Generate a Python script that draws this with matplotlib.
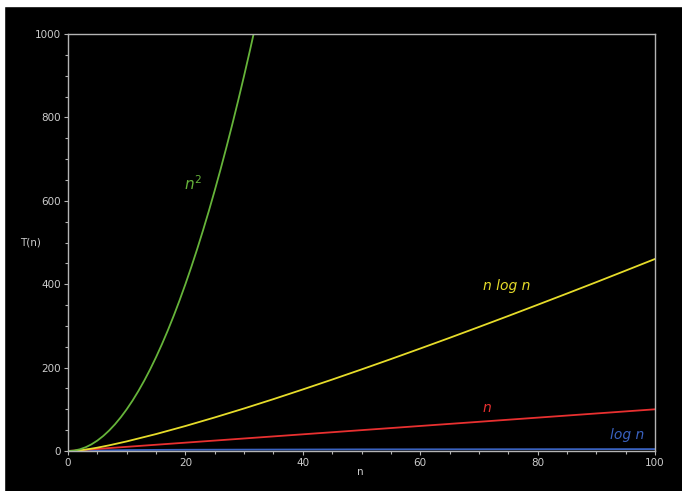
import matplotlib
matplotlib.use("Agg")
import matplotlib.pyplot as plt
from matplotlib.patches import Rectangle

# Data
n_sq_x = [0, 1, 2, 3, 4, 5, 6, 7, 8, 9, 10, 11, 12, 13, 14, 15, 16, 17, 18, 19, 20,
          21, 22, 23, 24, 25, 26, 27, 28, 29, 30, 31, 32]
n_sq_y = [0, 1, 4, 9, 16, 25, 36, 49, 64, 81, 100, 121, 144, 169, 196, 225, 256, 289, 324,
          361, 400, 441, 484, 529, 576, 625, 676, 729, 784, 841, 900, 961, 1024]

nlogn_x = [0, 1, 2, 3, 5, 7, 10, 15, 20, 25, 30, 35, 40, 45, 50, 55, 60, 65, 70, 75, 80, 85, 90, 95, 100]
nlogn_y = [0, 0, 1.4, 3.3, 8.0, 13.6, 23.0, 40.6, 59.9, 80.5, 102.0, 124.4, 147.6, 171.3, 195.6,
           220.4, 245.7, 271.3, 297.4, 323.8, 350.6, 377.6, 404.9, 432.6, 460.5]

lin_x = [0, 100]
lin_y = [0, 100]

log_x = [1, 10, 20, 50, 100]
log_y = [0, 2.3, 3.0, 3.9, 4.6]

x_ticks = [0, 20, 40, 60, 80, 100]
y_ticks = [0, 200, 400, 600, 800, 1000]

green = "#66b43a"
yellow = "#e6dc2a"
red = "#e83030"
blue = "#3a62c0"
axis_col = "#b4b4b4"
text_col = "#cccccc"

fig = plt.figure(figsize=(6.82, 4.91), dpi=100, facecolor="black")
# white strips at top and left
fig.patches.append(Rectangle((0, 0), 4 / 682, 1, transform=fig.transFigure, color="white", zorder=0))
fig.patches.append(Rectangle((0, 1 - 6 / 491), 1, 6 / 491, transform=fig.transFigure, color="white", zorder=0))

ax = fig.add_axes([68 / 682, 40 / 491, 587 / 682, 417 / 491])
ax.set_facecolor("black")

ax.plot(log_x, log_y, color=blue, lw=1.3)
ax.plot(lin_x, lin_y, color=red, lw=1.3)
ax.plot(nlogn_x, nlogn_y, color=yellow, lw=1.3)
ax.plot(n_sq_x, n_sq_y, color=green, lw=1.3)

ax.set_xlim(0, 100)
ax.set_ylim(0, 1000)
ax.set_xticks(x_ticks)
ax.set_yticks(y_ticks)
ax.set_xticks(range(0, 101, 5), minor=True)
ax.set_yticks(range(0, 1001, 50), minor=True)
ax.tick_params(colors=axis_col, labelcolor=text_col, labelsize=7.5, length=3, width=0.8, direction="out", pad=2)
ax.tick_params(which="minor", colors=axis_col, length=2, width=0.8, direction="out")
for s in ax.spines.values():
    s.set_color(axis_col)
    s.set_linewidth(1.0)

fig.text(30 / 682, 1 - 242 / 491, "T(n)", color=text_col, fontsize=7.5, ha="center", va="center")
fig.text(360 / 682, 1 - 472 / 491, "n", color=text_col, fontsize=7.5, ha="center", va="center")

ax.text(21.3, 640, r"$n^2$", color=green, fontsize=11, ha="center", va="center")
ax.text(74.8, 396, "n log n", color=yellow, fontsize=10, ha="center", va="center", fontstyle="italic")
ax.text(71.4, 103, "n", color=red, fontsize=10, ha="center", va="center", fontstyle="italic")
ax.text(95.2, 38, "log n", color=blue, fontsize=10, ha="center", va="center", fontstyle="italic")

fig.savefig("out.png", dpi=100, facecolor="black")
